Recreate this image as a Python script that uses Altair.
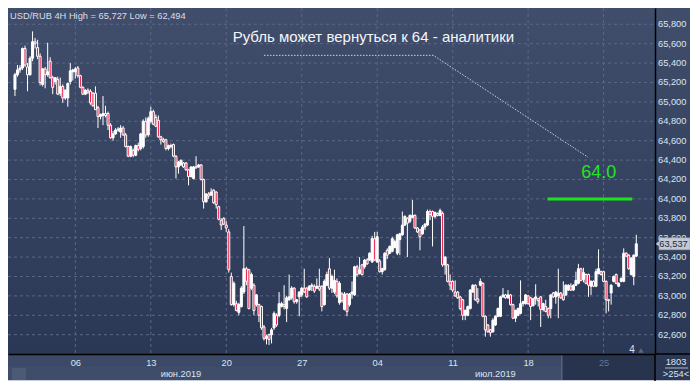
import altair as alt
import pandas as pd

# ---------------- data ----------------
opens = [
    65.13, 65.28, 65.33, 65.35, 65.55, 65.36, 65.28, 65.45, 65.62, 65.56,
    65.47, 65.18, 65.34, 65.28, 65.42, 65.25, 65.21, 65.23, 65.09, 65.16,
    65.04, 65.04, 65.21, 65.31, 65.31, 65.35, 65.27, 65.15, 65.08, 65.12,
    65.11, 65.09, 65.09, 64.94, 64.85, 64.86, 64.88, 64.88, 64.76, 64.63,
    64.67, 64.71,
    64.69, 64.73, 64.66, 64.54, 64.44, 64.50, 64.45, 64.55, 64.52, 64.54,
    64.80, 64.66, 64.80, 64.90, 64.84, 64.81, 64.64, 64.61, 64.61, 64.52,
    64.55, 64.56, 64.44, 64.33, 64.35, 64.37, 64.37, 64.30, 64.23, 64.21,
    64.33, 64.33, 64.35, 64.20, 63.97, 64.05, 64.04, 64.09, 64.07, 63.92,
    63.78, 63.80, 63.73,
    63.66, 63.20, 62.91, 62.92, 62.83, 62.89, 63.04, 63.28, 63.27, 63.08,
    63.11, 62.91, 62.91, 62.89, 62.68, 62.56, 62.60, 62.60, 62.67, 62.80,
    62.80, 62.89, 62.91, 62.87, 62.96, 62.98, 63.08, 62.94, 62.99, 63.01,
    63.08, 63.08, 63.06, 63.10, 63.10, 63.08, 63.10, 63.10, 62.91, 63.11,
    63.28, 63.08,
    63.04, 63.15, 62.93, 63.02, 62.86, 63.02, 62.91, 63.02, 63.01, 63.30,
    63.23, 63.32, 63.30, 63.37, 63.37, 63.35, 63.59, 63.35, 63.36, 63.25,
    63.27, 63.47, 63.44, 63.46, 63.50, 63.44, 63.58, 63.63, 63.73, 63.80,
    63.77, 63.81, 63.83, 63.70, 63.68, 63.64, 63.71, 63.73, 63.87, 63.87,
    63.82, 63.85, 63.83,
    63.85, 63.32, 63.32, 63.15, 63.15, 63.04, 63.04, 62.99, 62.96, 62.80,
    62.80, 62.87, 63.04, 63.11, 62.97, 63.11, 63.13, 62.79, 62.70, 62.65,
    62.63, 62.70, 62.79, 62.79, 62.99, 63.01, 62.98, 63.01, 62.91, 62.77,
    62.80, 62.82, 62.92, 62.92, 63.00, 62.98, 62.90, 62.97, 62.97, 62.99,
    62.86, 62.89,
    62.87, 62.87, 63.03, 62.99, 63.00, 63.03, 63.01, 63.01, 63.06, 63.10,
    63.06, 63.11, 63.13, 63.28, 63.17, 63.22, 63.22, 63.10, 63.15, 63.10,
    63.23, 63.25, 63.25, 63.15, 62.96, 63.03, 63.15, 63.22, 63.10, 63.15,
    63.15, 63.44, 63.42, 63.22, 63.20, 63.41,
]
highs = [
    65.30, 65.38, 65.38, 65.56, 65.58, 65.40, 65.47, 65.727, 65.66, 65.64,
    65.50, 65.35, 65.36, 65.61, 65.46, 65.27, 65.25, 65.26, 65.25, 65.18,
    65.13, 65.20, 65.40, 65.34, 65.36, 65.37, 65.28, 65.16, 65.13, 65.14,
    65.13, 65.10, 65.16, 64.96, 64.88, 65.06, 64.96, 64.90, 64.78, 64.70,
    64.73, 64.74,
    64.76, 64.75, 64.68, 64.55, 64.55, 64.52, 64.56, 64.58, 64.68, 64.82,
    64.84, 64.85, 64.95, 64.92, 64.87, 64.86, 64.65, 64.63, 64.62, 64.56,
    64.57, 64.57, 64.45, 64.39, 64.40, 64.38, 64.38, 64.31, 64.33, 64.34,
    64.44, 64.36, 64.36, 64.21, 64.06, 64.07, 64.11, 64.10, 64.08, 63.93,
    63.80, 63.81, 63.77,
    63.69, 63.24, 63.15, 62.95, 62.93, 63.10, 63.72, 63.30, 63.28, 63.24,
    63.13, 63.02, 62.92, 62.90, 62.70, 62.60, 62.61, 62.67, 62.84, 62.82,
    63.04, 62.94, 63.11, 63.00, 63.22, 63.10, 63.09, 62.97, 63.05, 63.09,
    63.28, 63.09, 63.11, 63.13, 63.12, 63.18, 63.28, 63.11, 63.17, 63.25,
    63.39, 63.22,
    63.27, 63.18, 63.15, 63.04, 63.04, 63.03, 63.03, 63.15, 63.31, 63.32,
    63.40, 63.33, 63.38, 63.39, 63.45, 63.62, 63.66, 63.66, 63.38, 63.29,
    63.45, 63.49, 63.52, 63.61, 63.58, 63.64, 63.65, 63.87, 63.83, 63.81,
    63.84, 63.99, 63.84, 63.71, 63.69, 63.73, 63.75, 63.89, 63.89, 63.88,
    63.87, 63.86, 63.90,
    63.87, 63.41, 63.33, 63.22, 63.16, 63.16, 63.05, 63.00, 62.97, 62.86,
    62.90, 63.07, 63.12, 63.12, 63.08, 63.18, 63.14, 62.80, 62.71, 62.66,
    62.77, 62.80, 62.88, 63.00, 63.08, 63.02, 63.06, 63.02, 62.92, 62.86,
    62.88, 63.16, 62.95, 63.02, 63.01, 62.99, 62.98, 63.12, 62.98, 63.00,
    62.93, 62.96,
    62.88, 63.02, 63.04, 63.05, 63.28, 63.04, 63.15, 63.12, 63.12, 63.13,
    63.12, 63.25, 63.33, 63.29, 63.29, 63.23, 63.23, 63.16, 63.16, 63.28,
    63.48, 63.26, 63.26, 63.16, 62.97, 63.12, 63.21, 63.23, 63.14, 63.19,
    63.49, 63.45, 63.43, 63.40, 63.43, 63.63,
]
lows = [
    65.06, 65.26, 65.30, 65.33, 65.36, 65.11, 65.27, 65.42, 65.55, 65.44,
    65.17, 65.16, 65.14, 65.26, 65.24, 65.08, 65.18, 65.07, 65.06, 64.99,
    65.02, 64.95, 65.18, 65.22, 65.24, 65.25, 65.14, 65.07, 65.07, 65.08,
    64.97, 64.95, 64.92, 64.73, 64.82, 64.76, 64.84, 64.71, 64.62, 64.60,
    64.66, 64.69,
    64.63, 64.65, 64.53, 64.43, 64.43, 64.43, 64.44, 64.49, 64.50, 64.52,
    64.63, 64.64, 64.78, 64.76, 64.74, 64.63, 64.56, 64.58, 64.50, 64.50,
    64.52, 64.43, 64.21, 64.26, 64.34, 64.32, 64.29, 64.14, 64.22, 64.20,
    64.31, 64.32, 64.19, 63.90, 63.96, 64.00, 64.03, 63.95, 63.90, 63.78,
    63.68, 63.73, 63.66,
    63.24, 62.90, 62.89, 62.84, 62.80, 62.88, 63.02, 63.11, 62.86, 63.06,
    62.80, 62.89, 62.73, 62.65, 62.54, 62.50, 62.494, 62.51, 62.65, 62.68,
    62.78, 62.88, 62.86, 62.73, 62.95, 62.96, 62.92, 62.92, 62.79, 62.99,
    63.03, 62.98, 63.05, 63.05, 63.03, 63.07, 63.05, 62.84, 62.90, 63.10,
    63.06, 63.03,
    63.02, 62.98, 62.91, 62.93, 62.85, 62.79, 62.89, 62.97, 63.00, 63.20,
    63.22, 63.21, 63.28, 63.32, 63.36, 63.34, 63.36, 63.34, 63.24, 63.22,
    63.26, 63.38, 63.43, 63.45, 63.49, 63.42, 63.42, 63.62, 63.72, 63.40,
    63.75, 63.80, 63.69, 63.65, 63.47, 63.63, 63.68, 63.72, 63.78, 63.51,
    63.80, 63.82, 63.82,
    63.30, 63.22, 63.14, 63.06, 63.04, 62.99, 62.97, 62.85, 62.75, 62.75,
    62.79, 62.86, 63.03, 62.95, 62.92, 63.10, 62.78, 62.58, 62.62, 62.58,
    62.62, 62.69, 62.78, 62.78, 62.98, 62.97, 62.97, 62.90, 62.76, 62.73,
    62.79, 62.81, 62.89, 62.91, 62.91, 62.75, 62.89, 62.91, 62.89, 62.68,
    62.84, 62.83,
    62.77, 62.77, 62.98, 62.92, 62.77, 62.97, 62.95, 63.00, 63.05, 63.05,
    63.05, 63.10, 63.12, 63.15, 63.14, 63.12, 62.99, 63.01, 63.09, 63.09,
    63.22, 63.21, 63.14, 62.82, 62.84, 62.91, 63.14, 63.12, 63.09, 63.14,
    63.14, 63.40, 63.27, 63.21, 63.11, 63.40,
]
closes = [
    65.28, 65.33, 65.35, 65.55, 65.38, 65.28, 65.45, 65.62, 65.60, 65.47,
    65.20, 65.34, 65.28, 65.31, 65.25, 65.15, 65.25, 65.08, 65.16, 65.04,
    65.12, 65.19, 65.32, 65.33, 65.34, 65.27, 65.15, 65.08, 65.12, 65.10,
    64.99, 64.96, 64.92, 64.85, 64.87, 64.88, 64.86, 64.76, 64.63, 64.67,
    64.71, 64.72,
    64.73, 64.66, 64.54, 64.44, 64.54, 64.45, 64.55, 64.51, 64.67, 64.80,
    64.66, 64.83, 64.90, 64.77, 64.75, 64.64, 64.61, 64.59, 64.52, 64.55,
    64.54, 64.44, 64.33, 64.38, 64.40, 64.33, 64.30, 64.23, 64.33, 64.33,
    64.32, 64.35, 64.20, 63.97, 64.05, 64.03, 64.07, 63.96, 63.94, 63.79,
    63.73, 63.74, 63.70,
    63.27, 62.91, 63.13, 62.85, 62.91, 63.08, 63.28, 63.15, 62.87, 63.22,
    62.85, 63.01, 62.80, 62.67, 62.56, 62.58, 62.55, 62.65, 62.82, 62.70,
    62.92, 62.92, 62.89, 62.98, 62.99, 63.08, 62.94, 62.96, 63.04, 63.08,
    63.04, 62.99, 63.10, 63.11, 63.05, 63.10, 63.07, 62.89, 63.15, 63.22,
    63.08, 63.20,
    63.16, 63.00, 63.13, 62.95, 63.02, 62.84, 63.02, 63.04, 63.30, 63.22,
    63.27, 63.22, 63.37, 63.33, 63.44, 63.59, 63.37, 63.61, 63.25, 63.28,
    63.44, 63.42, 63.51, 63.59, 63.56, 63.63, 63.64, 63.73, 63.82, 63.75,
    63.83, 63.83, 63.70, 63.66, 63.61, 63.71, 63.74, 63.87, 63.84, 63.82,
    63.86, 63.83, 63.88,
    63.32, 63.40, 63.15, 63.11, 63.06, 63.00, 62.98, 62.87, 62.80, 62.85,
    62.89, 63.06, 63.11, 62.96, 62.94, 63.15, 62.79, 62.65, 62.63, 62.62,
    62.75, 62.79, 62.87, 62.99, 63.01, 62.98, 63.01, 62.91, 62.77, 62.85,
    62.87, 62.92, 62.94, 63.01, 62.92, 62.89, 62.97, 62.99, 62.95, 62.86,
    62.92, 62.84,
    62.80, 63.01, 62.99, 63.04, 63.03, 62.98, 62.96, 63.11, 63.11, 63.06,
    63.11, 63.16, 63.28, 63.16, 63.24, 63.13, 63.11, 63.15, 63.10, 63.25,
    63.28, 63.22, 63.15, 62.96, 62.95, 63.11, 63.20, 63.13, 63.13, 63.18,
    63.44, 63.41, 63.28, 63.39, 63.42, 63.537,
]

tick_bars = [24, 54, 84, 114, 144, 174, 204, 234]
tick_labels = ["06", "13", "20", "27", "04", "11", "18", "25"]
month_pos = [66, 191]
month_labels = ["июн.2019", "июл.2019"]
price_ticks = [62.6, 62.8, 63.0, 63.2, 63.4, 63.6, 63.8, 64.0, 64.2,
               64.4, 64.6, 64.8, 65.0, 65.2, 65.4, 65.6, 65.8]
last_price = 63.537
header_text = "USD/RUB 4H High = 65,727 Low = 62,494"
note_text = "Рубль может вернуться к 64 - аналитики"
note_pos = [142.5, 65.669]
note_path_bar = [99.0, 166.3, 227.8]
note_path_price = [65.48, 65.48, 64.43]
target_price = 64.0
target_span = [211.7, 245.4]
target_label = "64.0"
target_label_pos = [232.1, 64.27]
bars_count_text = ["1803", ">254<"]

# ---------------- layout ----------------
W, H = 647, 346          # plot area
RIGHT = 682              # right edge of the whole chart (page body width)
FONT = "Liberation Sans"
LBL = "#dbe4f2"
xs = alt.Scale(domain=[-0.78, 252.45], nice=False, zero=False)
ys = alt.Scale(domain=[62.401, 65.968], nice=False, zero=False)

df = pd.DataFrame({"bar": list(range(len(opens))), "open": opens,
                   "high": highs, "low": lows, "close": closes})
df["dir"] = ["up" if c >= o else "down" for o, c in zip(opens, closes)]
one = pd.DataFrame({"k": [0]})


def X(field):
    return alt.X(field, scale=xs)


def Y(field):
    return alt.Y(field, scale=ys)


def box(x, x2, y, y2, color):
    return alt.Chart(one).mark_rect(color=color).encode(
        x=alt.value(x), x2=alt.value(x2), y=alt.value(y), y2=alt.value(y2))


grad = alt.LinearGradient(
    gradient="linear",
    stops=[alt.GradientStop(color="#414e6b", offset=0),
           alt.GradientStop(color="#2b3855", offset=1)],
    x1=0, x2=0, y1=0, y2=1)
bg = alt.Chart(one).mark_rect(fill=grad).encode(
    x=alt.value(0), x2=alt.value(RIGHT), y=alt.value(0), y2=alt.value(H))

bottom_panel = box(0, W, H, 372, "#3c4a68")
bottom_row2 = box(0, W, 359, 372, "#3f4d6b")
dark_box = box(554, W, H, 372, "#28334e")
dark_edge = box(553, 554.5, H, 372, "#56637f")
square_l = box(4, 18, 360, 372, "#4d5a76")
right_bottom = box(W, RIGHT, H, 372, "#2d3954")

black_v = alt.Chart(one).mark_rule(color="#000000", strokeWidth=1.5).encode(
    x=alt.value(W), y=alt.value(H), y2=alt.value(373))
black_h = alt.Chart(one).mark_rule(color="#000000", strokeWidth=1.5).encode(
    x=alt.value(W), x2=alt.value(RIGHT), y=alt.value(H))

hgrid = alt.Chart(pd.DataFrame({"price": price_ticks})).mark_rule(
    color="#5a6785", strokeDash=[3, 3], strokeWidth=1).encode(
    y=Y("price:Q"), x=alt.value(0), x2=alt.value(W))
vgrid = alt.Chart(pd.DataFrame({"bar": tick_bars})).mark_rule(
    color="#5a6785", strokeDash=[3, 3], strokeWidth=1).encode(
    x=X("bar:Q"), y=alt.value(0), y2=alt.value(H))

# price labels of the right axis (drawn as text so the price box can cover one)
ylab = pd.DataFrame({"price": price_ticks,
                     "t": [f"{p:.3f}".replace(".", ",") for p in price_ticks]})
ylabels = alt.Chart(ylab).mark_text(
    font=FONT, fontSize=9.3, color=LBL, align="left", baseline="middle").encode(
    x=alt.value(W + 3), y=Y("price:Q"), text="t:N")

xlabel_expr = " : ".join(
    f"datum.value == {b} ? '{t}'" for b, t in zip(tick_bars, tick_labels)) + " : ''"

xaxis = alt.Axis(orient="bottom", values=tick_bars, labelExpr=xlabel_expr,
                 ticks=False, tickSize=0, labelPadding=8.7,
                 labelBaseline="middle", labelFont=FONT, labelFontSize=9.3,
                 labelColor={"condition": {"test": "datum.value == 234",
                                           "value": "#66748f"},
                             "value": LBL},
                 domainColor="#000000", domainWidth=1.5, grid=False,
                 title=None, zindex=1, labelFlush=False, labelOverlap=False)
yaxis = alt.Axis(orient="right", values=price_ticks, labels=False,
                 ticks=False, tickSize=0, domainColor="#000000",
                 domainWidth=1.5, grid=False, title=None, zindex=1)

base = alt.Chart(df)
wicks = base.mark_rule(color="#ffffff", strokeWidth=1).encode(
    x=alt.X("bar:Q", scale=xs, axis=xaxis),
    y=alt.Y("low:Q", scale=ys, axis=yaxis),
    y2="high:Q")
bodies = base.mark_bar(size=2, stroke="#ffffff", strokeWidth=1).encode(
    x=X("bar:Q"), y=Y("open:Q"), y2="close:Q",
    fill=alt.Fill("dir:N", scale=alt.Scale(domain=["up", "down"],
                                           range=["#ffffff", "#e3103c"]),
                  legend=None))

path = alt.Chart(pd.DataFrame({"bar": note_path_bar, "price": note_path_price,
                               "o": [0, 1, 2]})).mark_line(
    color="#cfd3db", strokeDash=[1.5, 1.5], strokeWidth=1).encode(
    x=X("bar:Q"), y=Y("price:Q"), order="o:Q")
note = alt.Chart(pd.DataFrame({"bar": [note_pos[0]], "price": [note_pos[1]],
                               "t": [note_text]})).mark_text(
    font=FONT, fontSize=15, color="#f4f6fa", align="center",
    baseline="middle").encode(x=X("bar:Q"), y=Y("price:Q"), text="t:N")

tline = alt.Chart(pd.DataFrame({"bar": [target_span[0]], "bar2": [target_span[1]],
                                "price": [target_price]})).mark_rule(
    color="#19e619", strokeWidth=3).encode(
    x=X("bar:Q"), x2="bar2:Q", y=Y("price:Q"))
ttext = alt.Chart(pd.DataFrame({"bar": [target_label_pos[0]],
                                "price": [target_label_pos[1]],
                                "t": [target_label]})).mark_text(
    font=FONT, fontSize=18, color="#1ee61e", align="center",
    baseline="middle").encode(x=X("bar:Q"), y=Y("price:Q"), text="t:N")

header = alt.Chart(pd.DataFrame({"t": [header_text]})).mark_text(
    font=FONT, fontSize=9.3, color="#d8dfeb", align="left",
    baseline="middle").encode(x=alt.value(2), y=alt.value(8), text="t:N")

months = alt.Chart(pd.DataFrame({"bar": month_pos, "t": month_labels})).mark_text(
    font=FONT, fontSize=9.3, color=LBL, align="center", baseline="middle").encode(
    x=X("bar:Q"), y=alt.value(365.5), text="t:N")

pb = pd.DataFrame({"price": [last_price], "top": [last_price + 0.062],
                   "bot": [last_price - 0.062],
                   "t": [f"{last_price:.3f}".replace(".", ",")]})
pbox = alt.Chart(pb).mark_rect(fill="#c3cad5", stroke="#8c96a6",
                               strokeWidth=0.5).encode(
    x=alt.value(651), x2=alt.value(RIGHT), y=Y("top:Q"), y2="bot:Q")
parrow = alt.Chart(pb).mark_point(shape="triangle-left", filled=True, size=45,
                                  color="#c3cad5", opacity=1).encode(
    x=alt.value(650), y=Y("price:Q"))
ptext = alt.Chart(pb).mark_text(font=FONT, fontSize=9.3, color="#1c283d",
                                align="center", baseline="middle").encode(
    x=alt.value(665.5), y=Y("price:Q"), text="t:N")

rb_text1 = alt.Chart(pd.DataFrame({"t": [bars_count_text[0]]})).mark_text(
    font=FONT, fontSize=9.3, color=LBL, align="center", baseline="middle").encode(
    x=alt.value(668), y=alt.value(354.3), text="t:N")
rb_text2 = alt.Chart(pd.DataFrame({"t": [bars_count_text[1]]})).mark_text(
    font=FONT, fontSize=9.3, color=LBL, align="center", baseline="middle").encode(
    x=alt.value(668), y=alt.value(366.3), text="t:N")
rb_line = alt.Chart(one).mark_rule(color="#aeb8c8", strokeWidth=1).encode(
    x=alt.value(657), x2=alt.value(680), y=alt.value(360))

four = alt.Chart(pd.DataFrame({"t": ["4"]})).mark_text(
    font=FONT, fontSize=10, color=LBL, align="center", baseline="middle").encode(
    x=alt.value(624), y=alt.value(341.5), text="t:N")
four_tri = alt.Chart(one).mark_point(shape="triangle-up", filled=True, size=28,
                                     color="#5c6883", opacity=1).encode(
    x=alt.value(633), y=alt.value(342.5))

chart = alt.layer(
    bg, bottom_panel, bottom_row2, dark_box, dark_edge, square_l, right_bottom,
    hgrid, vgrid, ylabels, wicks, bodies, path, note, tline, ttext, header,
    months, pbox, parrow, ptext, rb_text1, rb_text2, rb_line, four, four_tri,
    black_v, black_h,
).properties(
    width=W, height=H,
    padding={"left": 0, "top": 0, "right": RIGHT - W, "bottom": 373 - H},
    autosize=alt.AutoSizeParams(type="none"),
    background="#c4cdda",
).configure_view(stroke=None)

chart.save("out.html", embed_options={"renderer": "svg", "actions": False})
